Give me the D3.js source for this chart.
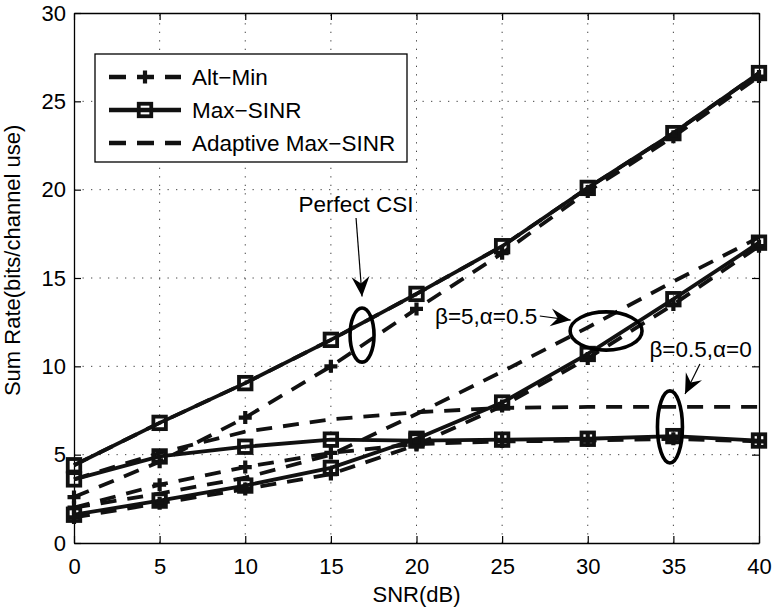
<!DOCTYPE html>
<html><head><meta charset="utf-8">
<script src="https://cdn.jsdelivr.net/npm/d3@7"></script>
<style>body{margin:0;background:#fff}svg{display:block}</style>
</head><body><svg id="c" width="774" height="610"></svg>
<script>
// ---------- data ----------
const snr = [0, 5, 10, 15, 20, 25, 30, 35, 40];
const xTicks = [0, 5, 10, 15, 20, 25, 30, 35, 40];
const yTicks = [0, 5, 10, 15, 20, 25, 30];

const perfectMaxSINR  = [4.4, 6.8, 9.05, 11.5, 14.1, 16.8, 20.1, 23.2, 26.6];
const perfectAltMin   = [2.6, 4.6, 7.1, 10.0, 13.25, 16.4, 19.9, 23.0, 26.4];
const perfectAdaptive = [4.4, 6.8, 9.05, 11.5, 14.1, 16.8, 20.1, 23.2, 26.6];

const b5MaxSINR  = [1.6, 2.4, 3.25, 4.25, 5.9, 7.95, 10.7, 13.8, 17.0];
const b5AltMin   = [1.45, 2.25, 3.05, 3.9, 5.55, 7.75, 10.45, 13.5, 16.8];
const b5Adaptive = [2.0, 2.8, 3.7, 5.0, 7.3, 9.7, 12.2, 14.8, 17.3];

const b05MaxSINR  = [3.6, 4.9, 5.45, 5.85, 5.8, 5.85, 5.9, 6.05, 5.8];
const b05AltMin   = [2.0, 3.3, 4.3, 5.1, 5.6, 5.75, 5.8, 5.9, 5.75];
const b05Adaptive = [3.6, 5.1, 6.3, 7.0, 7.4, 7.65, 7.7, 7.7, 7.7];

const legendLabels = ["Alt\u2212Min", "Max\u2212SINR", "Adaptive Max\u2212SINR"];
const xLabel = "SNR(dB)";
const yLabel = "Sum Rate(bits/channel use)";

// annotations in data units
const annotations = [
  {text: "Perfect CSI", tx: 16.47, ty: 18.74, anchor: "middle",
   from: [16.47, 18.4], to: [16.82, 13.95], ell: [16.82, 11.77, 0.7, 1.53]},
  {text: "\u03b2=5,\u03b1=0.5", tx: 21.08, ty: 12.4, anchor: "start",
   from: [27.2, 12.85], to: [29.0, 12.62], ell: [31.07, 12.0, 2.1, 1.08]},
  {text: "\u03b2=0.5,\u03b1=0", tx: 33.6, ty: 10.53, anchor: "start",
   from: [36.55, 10.13], to: [35.68, 8.43], ell: [34.8, 6.57, 0.73, 2.04]}
];

// ---------- layout ----------
const W = 774, H = 610;
const m = {left: 74, right: 15, top: 13, bottom: 67};
const svg = d3.select("#c");
const x = d3.scaleLinear().domain([0, 40]).range([m.left, W - m.right]);
const y = d3.scaleLinear().domain([0, 30]).range([H - m.bottom, m.top]);
const FONT = "'Liberation Sans', Arial, Helvetica, sans-serif";

// grid
const grid = svg.append("g").attr("stroke", "#444").attr("stroke-width", 1)
  .attr("stroke-dasharray", "1.3,7.2");
xTicks.slice(1, -1).forEach(t => grid.append("line")
  .attr("x1", x(t)).attr("x2", x(t)).attr("y1", y(0)).attr("y2", y(30)));
yTicks.slice(1, -1).forEach(t => grid.append("line")
  .attr("y1", y(t)).attr("y2", y(t)).attr("x1", x(0)).attr("x2", x(40)));

// axes (MATLAB style: box with inward ticks)
function styleAxis(g) {
  g.selectAll(".domain").attr("stroke", "#000").attr("stroke-width", 1.3);
  g.selectAll(".tick line").attr("stroke", "#000").attr("stroke-width", 1.2);
  g.selectAll("text").attr("font-family", FONT).attr("font-size", 22).attr("fill", "#000");
}
svg.append("g").attr("transform", `translate(0,${y(0)})`)
  .call(d3.axisBottom(x).tickValues(xTicks).tickSize(-7).tickSizeOuter(0).tickPadding(15))
  .call(styleAxis);
svg.append("g").attr("transform", `translate(0,${y(30)})`)
  .call(d3.axisTop(x).tickValues(xTicks).tickSize(-7).tickSizeOuter(0).tickFormat(""))
  .call(styleAxis);
svg.append("g").attr("transform", `translate(${x(0)},0)`)
  .call(d3.axisLeft(y).tickValues(yTicks).tickSize(-7).tickSizeOuter(0).tickPadding(8))
  .call(styleAxis);
svg.append("g").attr("transform", `translate(${x(40)},0)`)
  .call(d3.axisRight(y).tickValues(yTicks).tickSize(-7).tickSizeOuter(0).tickFormat(""))
  .call(styleAxis);

// axis labels
svg.append("text").attr("x", x(20)).attr("y", 602).attr("text-anchor", "middle")
  .attr("font-family", FONT).attr("font-size", 22).text(xLabel);
svg.append("text").attr("transform", `translate(20,${y(16)}) rotate(-90)`)
  .attr("text-anchor", "middle").attr("font-family", FONT).attr("font-size", 22).text(yLabel);

// ---------- series ----------
const series = [
  {v: perfectAdaptive, type: "adaptive"},
  {v: b5Adaptive, type: "adaptive"},
  {v: b05Adaptive, type: "adaptive"},
  {v: perfectAltMin, type: "alt"},
  {v: b5AltMin, type: "alt"},
  {v: b05AltMin, type: "alt"},
  {v: perfectMaxSINR, type: "max"},
  {v: b5MaxSINR, type: "max"},
  {v: b05MaxSINR, type: "max"}
];
const line = d3.line().x((d, i) => x(snr[i])).y(d => y(d));
const LW = 3.8, DASH = "16,11";
const plot = svg.append("g");
series.forEach(s => {
  plot.append("path").attr("d", line(s.v)).attr("fill", "none").attr("stroke", "#111")
    .attr("stroke-width", LW)
    .attr("stroke-dasharray", s.type === "max" ? null : DASH);
});
function plus(g, cx, cy, r) {
  g.append("path").attr("d", `M${cx - r},${cy}H${cx + r}M${cx},${cy - r}V${cy + r}`)
    .attr("stroke", "#111").attr("stroke-width", 4.2).attr("fill", "none");
}
function square(g, cx, cy, s) {
  g.append("rect").attr("x", cx - s / 2).attr("y", cy - s / 2).attr("width", s).attr("height", s)
    .attr("fill", "none").attr("stroke", "#111").attr("stroke-width", 3.8);
}
series.forEach(s => {
  s.v.forEach((d, i) => {
    if (s.type === "alt") plus(plot, x(snr[i]), y(d), 6.5);
    if (s.type === "max") square(plot, x(snr[i]), y(d), 12.5);
  });
});

// ---------- annotations ----------
const ann = svg.append("g");
function arrow(g, p0, p1) {
  g.append("line").attr("x1", p0[0]).attr("y1", p0[1]).attr("x2", p1[0]).attr("y2", p1[1])
    .attr("stroke", "#000").attr("stroke-width", 1.2);
  const a = Math.atan2(p1[1] - p0[1], p1[0] - p0[0]);
  const L = 20, Wd = 9, N = 13;
  const bx = p1[0] - L * Math.cos(a), by = p1[1] - L * Math.sin(a);
  const nx = p1[0] - N * Math.cos(a), ny = p1[1] - N * Math.sin(a);
  const px = -Math.sin(a), py = Math.cos(a);
  g.append("path").attr("d",
    `M${p1[0]},${p1[1]}L${bx + px * Wd},${by + py * Wd}L${nx},${ny}L${bx - px * Wd},${by - py * Wd}Z`)
    .attr("fill", "#000");
}
annotations.forEach(a => {
  ann.append("text").attr("x", x(a.tx)).attr("y", y(a.ty)).attr("text-anchor", a.anchor)
    .attr("font-family", FONT).attr("font-size", 22.5).text(a.text);
  arrow(ann, [x(a.from[0]), y(a.from[1])], [x(a.to[0]), y(a.to[1])]);
  const [cx, cy, rx, ry] = a.ell;
  ann.append("ellipse").attr("cx", x(cx)).attr("cy", y(cy))
    .attr("rx", x(rx) - x(0)).attr("ry", y(0) - y(ry))
    .attr("fill", "none").attr("stroke", "#000").attr("stroke-width", 3.6);
});

// ---------- legend ----------
const lg = svg.append("g");
lg.append("rect").attr("x", 95).attr("y", 54).attr("width", 312).attr("height", 108)
  .attr("fill", "#fff").attr("stroke", "#000").attr("stroke-width", 1.3);
const legendTypes = ["alt", "max", "adaptive"];
legendLabels.forEach((lab, i) => {
  const cy = 77 + i * 33;
  lg.append("line").attr("x1", 109).attr("x2", 181).attr("y1", cy).attr("y2", cy)
    .attr("stroke", "#111").attr("stroke-width", LW + 0.8)
    .attr("stroke-dasharray", legendTypes[i] === "max" ? null : "17,11");
  if (legendTypes[i] === "alt") plus(lg, 145, cy, 6.5);
  if (legendTypes[i] === "max") square(lg, 145, cy, 12.5);
  lg.append("text").attr("x", 192).attr("y", cy + 8).attr("font-family", FONT)
    .attr("font-size", 22.5).text(lab);
});
</script></body></html>
